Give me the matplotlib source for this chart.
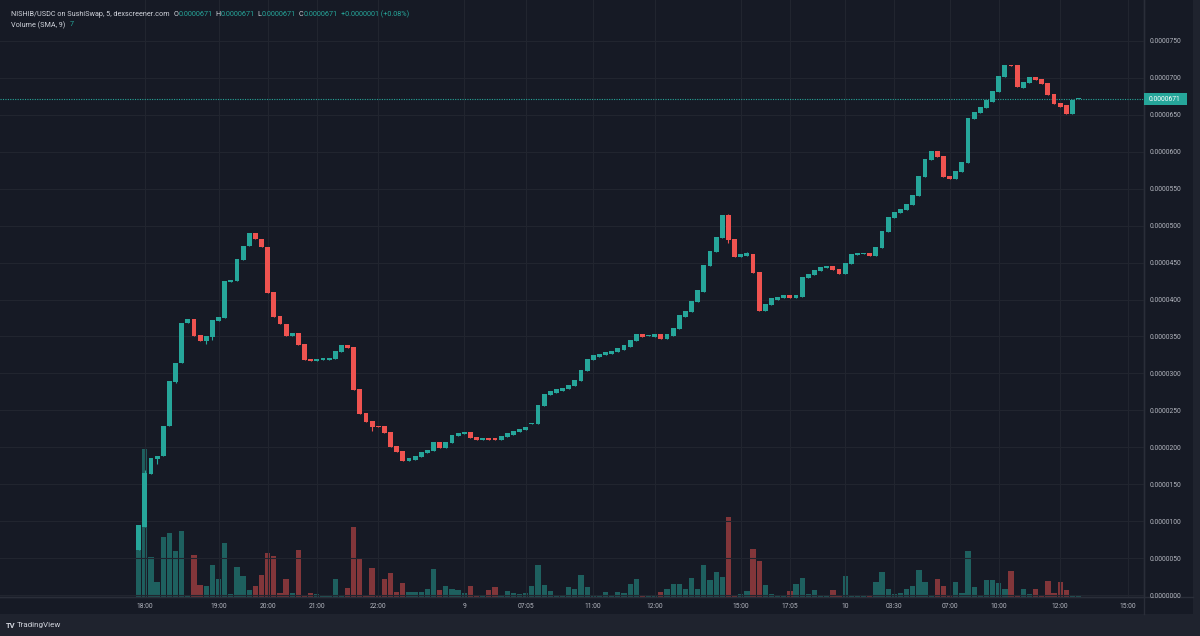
import matplotlib
matplotlib.use("Agg")
import matplotlib.pyplot as plt
import matplotlib.transforms as mtransforms
from matplotlib.patches import Rectangle
from matplotlib.lines import Line2D
from matplotlib.ticker import FuncFormatter

plt.rcParams['font.family'] = ['Roboto', 'DejaVu Sans']

# ---------------- data (prices in units of 1e-7 USDC) ----------------
pair_title = "NISHIB/USDC on SushiSwap, 5, dexscreener.com"
last_change = "+0.0000001 (+0.08%)"
volume_title = "Volume (SMA, 9)"
volume_sma_value = "7"

opens = [61, 92, 164, 184, 188, 229, 288, 314, 368, 374, 352, 344, 349, 371, 375, 424, 425, 454, 473, 490,
         482, 471, 410, 378, 367, 351, 355, 340, 320, 317, 318, 318, 319, 329, 338, 336, 279, 246, 236, 229,
         229, 221, 202, 195, 181, 183, 187, 192, 195, 207, 199, 206, 215, 218, 221, 214, 210, 212, 212, 210,
         214, 217, 221, 223, 231, 231, 256, 271, 273, 276, 279, 283, 290, 303, 318, 322, 325, 326, 329, 332,
         336, 344, 353, 350, 349, 353, 347, 351, 360, 376, 383, 397, 410, 445, 464, 483, 514, 482, 458, 459,
         462, 437, 384, 393, 399, 402, 406, 402, 403, 429, 433, 439, 443, 445, 441, 435, 448, 460, 462, 463,
         459, 470, 491, 510, 517, 521, 528, 540, 566, 589, 601, 594, 567, 563, 573, 585, 644, 652, 659, 667,
         681, 701, 717, 717, 686, 693, 701, 699, 693, 678, 666, 663, 651, 671]
closes = [95, 165, 186, 188, 229, 290, 314, 368, 374, 351, 344, 351, 372, 376, 425, 426, 455, 473, 490, 482,
          471, 409, 376, 367, 351, 355, 338, 318, 317, 320, 321, 321, 330, 338, 334, 278, 245, 234, 227, 227,
          219, 200, 194, 181, 186, 188, 194, 196, 207, 199, 207, 217, 219, 221, 213, 210, 212, 210, 210, 215,
          219, 222, 225, 227, 233, 257, 272, 276, 279, 280, 284, 291, 305, 320, 325, 326, 329, 330, 334, 338,
          345, 353, 349, 352, 353, 347, 353, 362, 379, 385, 398, 413, 447, 466, 485, 514, 481, 458, 462, 463,
          436, 385, 394, 402, 403, 406, 402, 406, 431, 435, 440, 444, 445, 440, 435, 450, 462, 463, 463, 459,
          471, 493, 512, 519, 523, 529, 542, 567, 590, 601, 593, 566, 563, 574, 586, 646, 654, 661, 670, 682,
          703, 718, 716, 688, 695, 701, 697, 692, 677, 665, 661, 651, 670, 671]
highs = [95, 169, 186, 188, 229, 290, 314, 368, 374, 374, 352, 351, 372, 376, 425, 426, 455, 473, 490, 490,
         482, 471, 410, 378, 367, 355, 355, 340, 320, 320, 321, 321, 330, 338, 338, 336, 279, 246, 236, 229,
         229, 221, 202, 195, 186, 188, 194, 196, 207, 207, 207, 217, 219, 221, 221, 214, 212, 212, 212, 215,
         219, 222, 225, 227, 233, 257, 272, 276, 279, 280, 284, 291, 305, 320, 325, 326, 329, 330, 334, 338,
         345, 353, 353, 352, 353, 353, 353, 362, 379, 385, 398, 413, 447, 466, 485, 514, 516, 482, 462, 465,
         462, 437, 394, 402, 403, 406, 406, 406, 431, 435, 440, 444, 445, 445, 441, 450, 462, 463, 463, 463,
         471, 493, 512, 519, 523, 529, 542, 567, 590, 601, 601, 594, 567, 574, 586, 646, 654, 661, 670, 682,
         703, 718, 717, 717, 695, 701, 701, 699, 693, 678, 666, 663, 670, 671]
lows = [61, 92, 164, 177, 188, 229, 287, 314, 368, 351, 344, 340, 345, 371, 375, 424, 425, 454, 473, 482,
        471, 409, 376, 367, 351, 351, 338, 318, 317, 317, 318, 318, 319, 329, 334, 278, 245, 234, 222, 227,
        219, 200, 194, 181, 181, 183, 187, 192, 195, 199, 199, 206, 215, 218, 213, 210, 210, 210, 210, 210,
        214, 217, 221, 223, 231, 231, 256, 271, 273, 276, 279, 283, 290, 303, 318, 322, 325, 326, 329, 332,
        336, 344, 349, 350, 349, 347, 347, 351, 360, 376, 383, 397, 410, 445, 464, 483, 476, 458, 458, 459,
        436, 385, 384, 393, 399, 402, 402, 402, 403, 429, 433, 439, 443, 440, 435, 435, 448, 460, 462, 459,
        459, 470, 491, 510, 517, 521, 528, 540, 566, 589, 593, 566, 563, 563, 573, 585, 644, 652, 659, 667,
        681, 701, 716, 688, 686, 693, 697, 692, 677, 665, 661, 651, 651, 671]
volumes = [72, 148, 40, 15, 60, 64, 46, 66, 2.3, 42, 12, 11, 32, 18, 54, 3, 30, 21, 7, 11,
           22, 44, 41, 4.3, 18, 3.6, 47, 0.6, 3.6, 3, 2.3, 1.7, 18, 1.3, 9, 70, 39, 1.3, 29, 2.3,
           18, 24, 5.3, 14, 5.3, 4.6, 5.3, 7.6, 28, 7.3, 10.6, 8.3, 7.3, 3.6, 11.3, 1.3, 2, 7.3, 10, 2.3,
           6.3, 4.3, 3, 3.6, 11.3, 32, 12.3, 5.6, 1.3, 2, 10.3, 8, 22, 10.3, 2, 2, 4.6, 1.7, 5.3, 4.3,
           12.6, 17.6, 1.3, 1.6, 1.6, 4.6, 8.3, 13.3, 13.3, 8.3, 19.3, 8, 32.3, 17, 25, 20, 80, 1.7, 3, 6,
           48, 36, 12, 3.3, 1.7, 1.3, 6.3, 12.6, 19.3, 3.3, 7.3, 2.3, 1.3, 6.6, 1.3, 20.6, 1.7, 1.3, 2.3, 2.3,
           14.6, 24.6, 8.3, 3.3, 4.3, 8.3, 11.3, 27.3, 14.6, 1.3, 18.3, 10.6, 0.6, 15.3, 3.6, 45.6, 9.6, 1.7, 16.6, 17,
           14.3, 8, 26.3, 1.7, 8.3, 3.3, 8, 0.6, 16, 4.3, 14.6, 6.6, 1.3, 1.3]

time_tick_bars = [1, 13, 21, 29, 39, 53, 63, 74, 84, 98, 106, 115, 123, 132, 140, 150, 161]
time_tick_labels = ["18:00", "19:00", "20:00", "21:00", "22:00", "9", "07:05", "11:00", "12:00",
                    "15:00", "17:05", "10", "03:30", "07:00", "10:00", "12:00", "15:00"]
price_ticks = list(range(0, 751, 50))

# ---------------- style ----------------
W, H = 1200, 636
BG = "#161a25"
FRAME = "#1f232e"
GRID = "#21252f"
LINE = "#2a2e39"
TXT = "#d1d4dc"
AXTXT = "#b2b5be"
UP = "#26a69a"
DN = "#ef5350"

fig = plt.figure(figsize=(W / 100, H / 100), dpi=100, facecolor=BG)

def fx(px):
    return px / W

def fy(py):
    return 1 - py / H

# outer frame (bottom strip and right sliver)
fig.patches.append(Rectangle((0, 0), 1, fy(614), transform=fig.transFigure, fc=FRAME, ec="none", zorder=0))
fig.patches.append(Rectangle((fx(1193), 0), 1, 1, transform=fig.transFigure, fc=FRAME, ec="none", zorder=0))

ax = fig.add_axes([0, fy(597), fx(1144), 597 / H])
axv = ax.twinx()
ax.set_zorder(2)
axv.set_zorder(1)
ax.patch.set_visible(False)
axv.patch.set_facecolor(BG)

n = len(opens)
xs = list(range(n))
up = [c >= o for o, c in zip(opens, closes)]

# volume
vcols = [UP if u else DN for u in up]
axv.bar(xs, volumes, width=0.86, color=vcols, alpha=0.5, linewidth=0)
axv.set_ylim(0, 597)
axv.set_yticks([])
for s in axv.spines.values():
    s.set_visible(False)

# candles
ccols = [UP if u else DN for u in up]
ax.vlines(xs, lows, highs, colors=ccols, linewidth=0.8, zorder=3)
bottoms = [min(o, c) for o, c in zip(opens, closes)]
heights = [max(abs(c - o), 1.4) for o, c in zip(opens, closes)]
ax.bar(xs, heights, bottom=bottoms, width=0.78, color=ccols, linewidth=0, zorder=4)

ax.set_xlim(-22.58, 163.65)
ax.set_ylim(-2.7, 805.5)

ax.set_yticks(price_ticks)
ax.yaxis.tick_right()
ax.yaxis.set_major_formatter(FuncFormatter(lambda v, p: f"{v * 1e-7:.7f}"))
ax.set_xticks(time_tick_bars)
ax.set_xticklabels(time_tick_labels)
ax.tick_params(axis="y", length=0, pad=4.3, labelsize=4.9, colors=AXTXT)
ax.tick_params(axis="x", length=0, pad=4.0, labelsize=4.9, colors=AXTXT)
ax.grid(True, color=GRID, linewidth=0.8)
ax.set_axisbelow(True)
for k in ("top", "left"):
    ax.spines[k].set_visible(False)
ax.spines["right"].set_color(LINE)
ax.spines["bottom"].set_color(LINE)
ax.spines["right"].set_linewidth(1)
ax.spines["bottom"].set_linewidth(1)

# last price line and tag
last = closes[-1]
ax.axhline(last, color=UP, linewidth=0.8, linestyle=(0, (1, 1.2)), zorder=2)
blend = mtransforms.blended_transform_factory(ax.transAxes, ax.transData)
tag_h = 12 * 805.5 / 597
ax.add_patch(Rectangle((1.0, last - tag_h / 2), 43 / 1144, tag_h, transform=blend,
                       fc=UP, ec="none", clip_on=False, zorder=5))
ax.text(1.0 + 5 / 1144, last, f"{last * 1e-7:.7f}", transform=blend, ha="left", va="center",
        color="white", fontsize=4.9, zorder=6, clip_on=False)

# frame lines
fig.add_artist(Line2D([fx(0), fx(1193)], [fy(597), fy(597)], color=LINE, lw=1, transform=fig.transFigure))
fig.add_artist(Line2D([fx(1144), fx(1144)], [fy(0), fy(614)], color=LINE, lw=1, transform=fig.transFigure))

# header
renderer = fig.canvas.get_renderer()

def segments(x_px, y_px, parts, size=5.2):
    x = x_px
    for txt, col, gap in parts:
        t = fig.text(fx(x), fy(y_px), txt, color=col, fontsize=size, ha="left", va="center")
        x += t.get_window_extent(renderer).width + gap

val = f"{last * 1e-7:.7f}"
segments(11, 14, [(pair_title, TXT, 4), ("O", TXT, 0), (val, UP, 3), ("H", TXT, 0), (val, UP, 3),
                  ("L", TXT, 0), (val, UP, 3), ("C", TXT, 0), (val, UP, 3), (last_change, UP, 0)])
segments(11, 25, [(volume_title, TXT, 4), (volume_sma_value, UP, 0)])

# TradingView logo text
fig.text(fx(6), fy(625), "TV", color="#d1d4dc", fontsize=5.5, fontweight="bold", ha="left", va="center")
fig.text(fx(17), fy(625), "TradingView", color="#d1d4dc", fontsize=5.8, ha="left", va="center")

fig.savefig("out.png", dpi=100, facecolor=BG)
